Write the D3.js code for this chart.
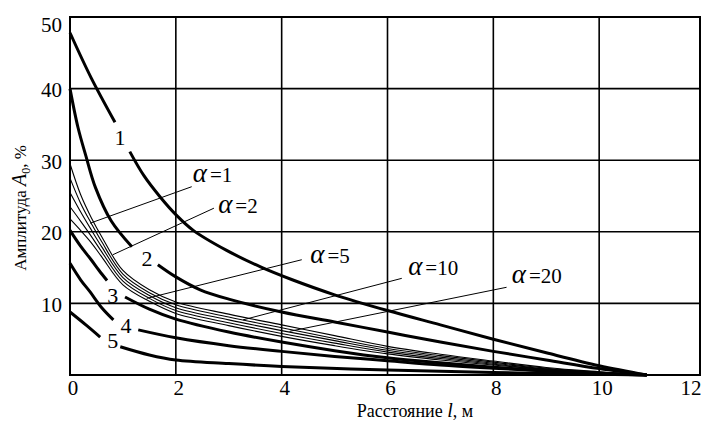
<!DOCTYPE html>
<html>
<head>
<meta charset="utf-8">
<script src="https://cdn.jsdelivr.net/npm/d3@7"></script>
<style>
  body { margin: 0; background: #fff; }
  text { font-family: "Liberation Serif", "DejaVu Serif", serif; fill: #000; }
</style>
</head>
<body>
<svg></svg>
<script>
const width = 703;
const height = 423;
const plotLeft = 70;
const plotRight = 700;
const plotTop = 17;
const plotBottom = 375;

// tick values
const xTicks = [0, 2, 4, 6, 8, 10, 12];
const yTicks = [10, 20, 30, 40, 50];

// numbered thick curves, [l, A0]; null = gap where the number sits
const curve1 = [[0, 47.8], [0.4, 41.5], [0.85, 35.3], null, [1.13, 31.2], [1.4, 27.8], [1.7, 24.9],
  [2.0, 22.4], [2.33, 20.2], [2.96, 17.4], [3.6, 15.1], [4.2, 13.3], [5, 11.2], [6, 9.0],
  [7, 7.0], [8, 5.0], [9, 3.1], [10, 1.3], [10.9, 0]];
const curve2 = [[0, 40], [0.15, 34.6], [0.3, 30.6], [0.48, 26.2], [0.78, 21.5], [1.17, 17.9], null,
  [1.66, 15.4], [2, 13.7], [2.46, 11.9], [3, 10.6], [4, 8.8], [5, 7.4], [6, 6.0], [7, 4.6],
  [8, 3.3], [9, 2.1], [10, 0.9], [10.9, 0]];
const curve3 = [[0, 20.2], [0.2, 18.0], [0.4, 16.1], [0.55, 14.6], [0.7, 13.2], null, [1.04, 10.9],
  [1.5, 9.2], [2, 7.8], [3, 6.0], [4, 4.6], [5, 3.4], [6, 2.4], [7, 1.7], [8, 1.1], [9, 0.6],
  [10, 0.25], [10.9, 0]];
const curve4 = [[0, 15.6], [0.2, 13.3], [0.38, 11.6], [0.6, 9.4], [0.82, 7.7], null, [1.29, 6.3],
  [2, 5.2], [3, 4.1], [4, 3.3], [5, 2.6], [6, 2.0], [7, 1.4], [8, 0.95], [9, 0.55], [10, 0.2],
  [10.9, 0]];
const curve5 = [[0, 8.8], [0.3, 7.0], [0.57, 5.3], null, [0.95, 3.95], [1.5, 2.8], [2, 2.1],
  [3, 1.6], [4, 1.2], [6, 0.7], [8, 0.35], [10, 0.1], [10.9, 0]];

const curveNames = ['1', '2', '3', '4', '5'];
const curveLabelPos = [[0.945, 33.2], [1.455, 16.3], [0.81, 11.1], [1.06, 6.9], [0.81, 4.8]];

// thin curves for alpha = 1, 2, 5, 10, 20
const thinL = [0, 0.2, 0.4, 0.6, 1.0, 1.5, 2, 3, 4, 5, 6, 7, 8, 9, 10, 10.9];
const thinA1 = [29.5, 25.2, 22.0, 19.3, 14.6, 11.9, 10.2, 8.5, 7.0, 5.5, 4.0, 2.9, 1.95, 1.05, 0.45, 0];
const thinA2 = [27.5, 24.0, 21.2, 18.6, 14.1, 11.5, 9.8, 8.1, 6.6, 5.1, 3.7, 2.7, 1.8, 0.95, 0.4, 0];
const thinA5 = [25.5, 22.8, 20.3, 17.9, 13.6, 11.1, 9.4, 7.7, 6.2, 4.8, 3.45, 2.5, 1.65, 0.85, 0.35, 0];
const thinA10 = [23.5, 21.5, 19.4, 17.2, 13.1, 10.7, 9.0, 7.3, 5.8, 4.45, 3.2, 2.3, 1.5, 0.8, 0.3, 0];
const thinA20 = [21.8, 20.2, 18.5, 16.5, 12.6, 10.3, 8.6, 6.9, 5.4, 4.1, 2.95, 2.1, 1.4, 0.75, 0.3, 0];

// alpha labels with their leader lines
const alphaValues = [1, 2, 5, 10, 20];
const alphaTextPos = [[2.32, 26.95], [2.8, 22.6], [4.54, 15.6], [6.39, 14.0], [8.35, 12.85]];
const leaderFrom = [[2.3, 26.3], [2.72, 23.3], [4.38, 16.1], [6.27, 13.5], [8.25, 12.25]];
const leaderTo = [[0.38, 21.2], [0.81, 16.8], [1.45, 10.7], [3.27, 7.7], [4.15, 6.1]];

window.onload = () => {
  const svg = d3.select('svg')
      .attr('width', width)
      .attr('height', height);

  svg.append('rect')
      .attr('width', width)
      .attr('height', height)
      .attr('fill', '#fff');

  const x = d3.scaleLinear().domain([0, 12]).range([plotLeft, 705]);
  const y = d3.scaleLinear().domain([0, 50]).range([plotBottom, plotTop]);

  // grid
  svg.append('g')
    .selectAll('line')
    .data(xTicks.filter(d => d > 0 && d < 12))
    .join('line')
      .attr('x1', d => x(d))
      .attr('x2', d => x(d))
      .attr('y1', plotTop)
      .attr('y2', plotBottom)
      .attr('stroke', '#000')
      .attr('stroke-width', 1.6);

  svg.append('g')
    .selectAll('line')
    .data(yTicks)
    .join('line')
      .attr('x1', plotLeft)
      .attr('x2', plotRight)
      .attr('y1', d => y(d))
      .attr('y2', d => y(d))
      .attr('stroke', '#000')
      .attr('stroke-width', 1.6);

  svg.append('rect')
      .attr('x', plotLeft)
      .attr('y', plotTop)
      .attr('width', plotRight - plotLeft)
      .attr('height', plotBottom - plotTop)
      .attr('fill', 'none')
      .attr('stroke', '#000')
      .attr('stroke-width', 2);

  // tick labels
  svg.append('g')
    .selectAll('text')
    .data(xTicks)
    .join('text')
      .attr('x', d => Math.min(x(d) + 3, 691))
      .attr('y', 395)
      .attr('text-anchor', 'middle')
      .style('font-size', '21px')
      .text(d => d);

  svg.append('g')
    .selectAll('text')
    .data(yTicks)
    .join('text')
      .attr('x', 62)
      .attr('y', d => Math.max(y(d) + 1, 25))
      .attr('dy', '0.35em')
      .attr('text-anchor', 'end')
      .style('font-size', '21px')
      .text(d => d);

  // axis titles
  const xTitle = svg.append('text')
      .attr('x', 415)
      .attr('y', 417)
      .attr('text-anchor', 'middle')
      .style('font-size', '18px');
  xTitle.append('tspan').text('Расстояние ');
  xTitle.append('tspan').style('font-style', 'italic').style('font-size', '20px').text('l');
  xTitle.append('tspan').text(', м');

  const yTitle = svg.append('text')
      .attr('transform', 'translate(26,208) rotate(-90)')
      .attr('text-anchor', 'middle')
      .style('font-size', '17px');
  yTitle.append('tspan').text('Амплитуда ');
  yTitle.append('tspan').style('font-style', 'italic').style('font-size', '20px').text('A');
  yTitle.append('tspan').attr('dy', 4).style('font-size', '12px').text('0');
  yTitle.append('tspan').attr('dy', -4).text(', %');

  const line = d3.line()
      .defined(d => d !== null)
      .x(d => x(d[0]))
      .y(d => y(d[1]))
      .curve(d3.curveCatmullRom.alpha(0.5));

  // thin alpha curves
  const thinCurves = [thinA1, thinA2, thinA5, thinA10, thinA20]
    .map(vals => vals.map((v, i) => [thinL[i], v]));

  svg.append('g')
    .selectAll('path')
    .data(thinCurves)
    .join('path')
      .attr('d', line)
      .attr('fill', 'none')
      .attr('stroke', '#000')
      .attr('stroke-width', 1.1);

  // thick numbered curves
  svg.append('g')
    .selectAll('path')
    .data([curve1, curve2, curve3, curve4, curve5])
    .join('path')
      .attr('d', line)
      .attr('fill', 'none')
      .attr('stroke', '#000')
      .attr('stroke-width', 3);

  svg.append('g')
    .selectAll('text')
    .data(curveNames)
    .join('text')
      .attr('x', (d, i) => x(curveLabelPos[i][0]))
      .attr('y', (d, i) => y(curveLabelPos[i][1]))
      .attr('dy', '0.35em')
      .attr('text-anchor', 'middle')
      .style('font-size', '22px')
      .text(d => d);

  // leaders
  svg.append('g')
    .selectAll('line')
    .data(alphaValues)
    .join('line')
      .attr('x1', (d, i) => x(leaderFrom[i][0]))
      .attr('y1', (d, i) => y(leaderFrom[i][1]))
      .attr('x2', (d, i) => x(leaderTo[i][0]))
      .attr('y2', (d, i) => y(leaderTo[i][1]))
      .attr('stroke', '#000')
      .attr('stroke-width', 1);

  const alphaText = svg.append('g')
    .selectAll('text')
    .data(alphaValues)
    .join('text')
      .attr('x', (d, i) => x(alphaTextPos[i][0]))
      .attr('y', (d, i) => y(alphaTextPos[i][1]))
      .style('font-size', '21px');
  alphaText.append('tspan')
      .style('font-style', 'italic')
      .style('font-size', '27px')
      .text('α');
  alphaText.append('tspan')
      .attr('dx', 3)
      .text(d => '=' + d);
};
</script>
</body>
</html>
